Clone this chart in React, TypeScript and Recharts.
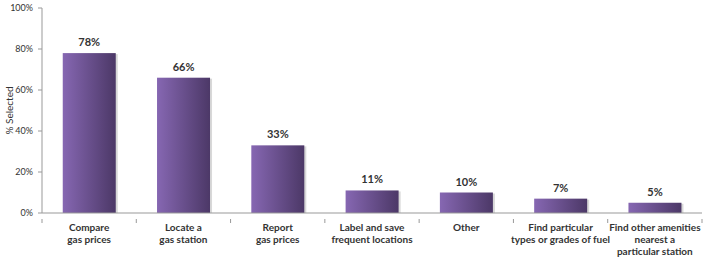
import React from "react";
import { BarChart, Bar, XAxis, YAxis, LabelList } from "recharts";

const categories = [
  "Compare\ngas prices",
  "Locate a\ngas station",
  "Report\ngas prices",
  "Label and save\nfrequent locations",
  "Other",
  "Find particular\ntypes or grades of fuel",
  "Find other amenities\nnearest a\nparticular station",
];
const values = [78, 66, 33, 11, 10, 7, 5];
const yTicks = [0, 20, 40, 60, 80, 100];

const data = categories.map((c, i) => ({ name: c, value: values[i] }));

const FONT = "Lato, 'Noto Sans', sans-serif";

const XTick = (props: any) => {
  const { x, y, payload, index, visibleTicksCount, width } = props;
  const half =
    payload && typeof payload.offset === "number" && payload.offset > 0
      ? payload.offset
      : width / visibleTicksCount / 2;
  const lines = String(payload.value).split("\n");
  return (
    <g>
      <line x1={x - half} x2={x - half} y1={y - 2} y2={y + 2} stroke="#999" />
      {index === visibleTicksCount - 1 && (
        <line x1={x + half} x2={x + half} y1={y - 2} y2={y + 2} stroke="#999" />
      )}
      <text
        x={x}
        y={y + 10}
        textAnchor="middle"
        fontFamily={FONT}
        fontSize={10}
        fontWeight={700}
        fill="#333"
      >
        {lines.map((l, i) => (
          <tspan key={i} x={x} dy={i === 0 ? 0 : 12}>
            {l}
          </tspan>
        ))}
      </text>
    </g>
  );
};

const BarShape = (props: any) => {
  const { x, y, width, height } = props;
  if (!height || height <= 0) return null;
  return (
    <g>
      <rect x={x + 2} y={y + 1} width={width} height={height - 1} fill="#c8c8c8" opacity={0.7} />
      <rect x={x} y={y} width={width} height={height} fill="url(#barGrad)" />
    </g>
  );
};

export default function App() {
  return (
    <div style={{ position: "absolute", left: 0, top: 0, background: "#fff" }}>
      <BarChart
        width={710}
        height={260}
        data={data}
        margin={{ top: 8, right: 8, left: 0, bottom: 0 }}
        barCategoryGap="22%"
      >
        <defs>
          <linearGradient id="barGrad" x1="0" y1="0" x2="1" y2="0">
            <stop offset="0%" stopColor="#8667b2" />
            <stop offset="100%" stopColor="#4c3867" />
          </linearGradient>
        </defs>
        <XAxis
          dataKey="name"
          interval={0}
          height={47}
          tickLine={false}
          axisLine={{ stroke: "#999" }}
          tick={<XTick />}
        />
        <YAxis
          width={42}
          domain={[0, 100]}
          ticks={yTicks}
          tickFormatter={(v: number) => `${v}%`}
          axisLine={{ stroke: "#999" }}
          tickLine={{ stroke: "#999" }}
          tickSize={4}
          tickMargin={5}
          tick={{ fontFamily: FONT, fontSize: 9, fill: "#333" }}
          label={{
            value: "% Selected",
            angle: -90,
            position: "insideLeft",
            offset: 9,
            style: { fontFamily: FONT, fontSize: 10, fill: "#333", textAnchor: "middle" },
          }}
        />
        <Bar dataKey="value" isAnimationActive={false} shape={<BarShape />}>
          <LabelList
            dataKey="value"
            position="top"
            offset={7}
            formatter={(v: number) => `${v}%`}
            style={{ fontFamily: FONT, fontSize: 11, fontWeight: 700, fill: "#333" }}
          />
        </Bar>
      </BarChart>
    </div>
  );
}
